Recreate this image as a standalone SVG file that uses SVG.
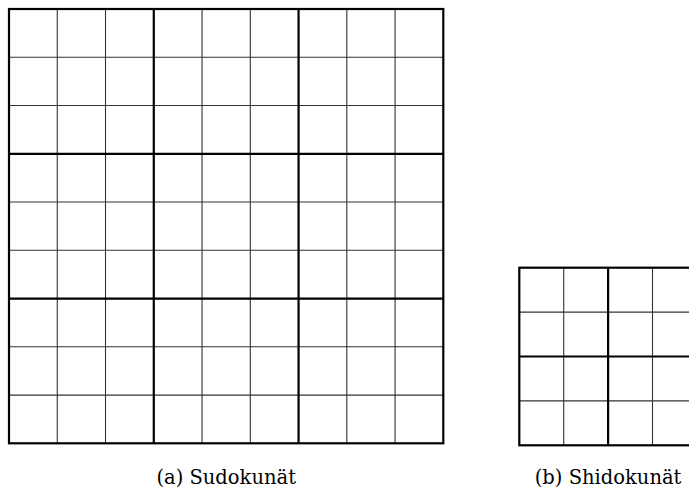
<svg xmlns="http://www.w3.org/2000/svg" width="689" height="489" viewBox="0 0 689 489">
<style>
.thin{stroke:#333;stroke-width:1.1;fill:none}
.thick{stroke:#000;stroke-width:2.2;fill:none}
.cap{font-family:"DejaVu Serif","Liberation Serif",serif;font-size:19.5px;fill:#000;text-anchor:middle}
</style>
<rect width="689" height="489" fill="#fff"/>
<g id="sudoku">
<path class="thin" d="M57.26 9V443.3M105.52 9V443.3M202.04 9V443.3M250.3 9V443.3M346.82 9V443.3M395.08 9V443.3M9 57.26H443.3M9 105.52H443.3M9 202.04H443.3M9 250.3H443.3M9 346.82H443.3M9 395.08H443.3"/>
<path class="thick" d="M153.78 9V443.3M298.56 9V443.3M9 153.78H443.3M9 298.56H443.3"/>
<rect class="thick" x="9" y="9" width="434.3" height="434.3"/>
</g>
<g id="shidoku">
<path class="thin" d="M563.7 267.7V445.3M652.5 267.7V445.3M519.3 312.1H697M519.3 400.9H697"/>
<path class="thick" d="M608.1 267.7V445.3M519.3 356.5H697"/>
<rect class="thick" x="519.3" y="267.7" width="177.6" height="177.6"/>
</g>
<g id="captions">
<text class="cap" x="226.2" y="484">(a) Sudokunät</text>
<text class="cap" x="608.1" y="484">(b) Shidokunät</text>
</g>
</svg>
